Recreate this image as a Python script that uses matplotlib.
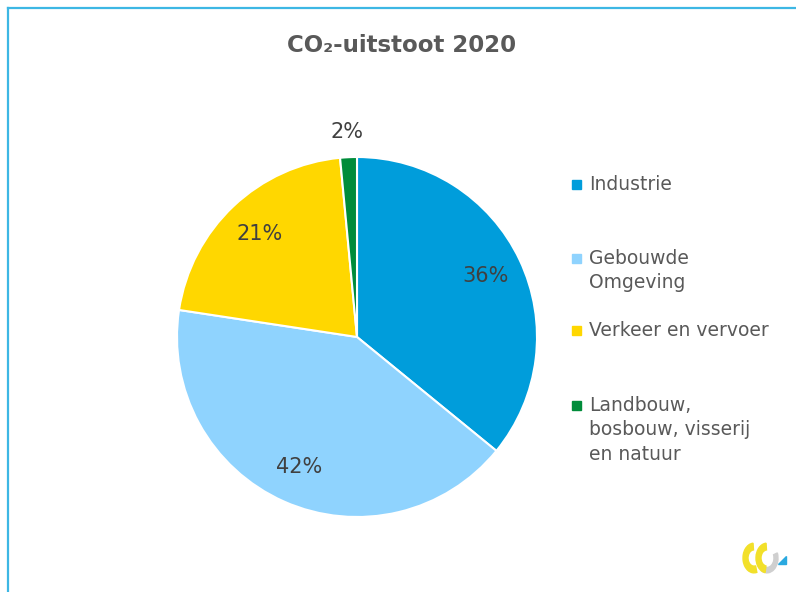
import matplotlib
matplotlib.use("Agg")
import matplotlib.pyplot as plt
from matplotlib.patches import Rectangle, Wedge, Polygon
from matplotlib.lines import Line2D
import numpy as np

plt.rcParams["font.family"] = ["DejaVu Sans"]

# data
categories = ["Industrie", "Gebouwde\nOmgeving", "Verkeer en vervoer",
              "Landbouw,\nbosbouw, visserij\nen natuur"]
shares = [35.9, 41.5, 21.1, 1.5]
colors = ["#009DDB", "#8FD3FE", "#FFD700", "#008C3A"]
title = "CO₂-uitstoot 2020"

W, H = 796, 592
fig = plt.figure(figsize=(W / 100, H / 100), dpi=100)
fig.patch.set_facecolor("white")

# blauwe kaderlijn links en boven
border = "#3DB7E4"
fig.add_artist(Line2D([8 / W, 8 / W], [0, 1 - 8 / H], color=border, lw=1.6))
fig.add_artist(Line2D([8 / W, 1], [1 - 8 / H, 1 - 8 / H], color=border, lw=1.6))

fig.text(402 / W, 1 - 46 / H, title, ha="center", va="center",
         fontsize=16.5, fontweight="bold", color="#595959")

# taartdiagram
cx, cy, r = 357, 337, 180
ax = fig.add_axes([(cx - r) / W, 1 - (cy + r) / H, 2 * r / W, 2 * r / H])
wedges, texts, autotexts = ax.pie(
    shares, colors=colors, startangle=90, counterclock=False,
    autopct="%.0f%%", pctdistance=0.79,
    wedgeprops=dict(edgecolor="white", linewidth=1.5),
    textprops=dict(fontsize=15, color="#404040"))
ax.set_xlim(-1, 1)
ax.set_ylim(-1, 1)
ax.set_aspect("equal")

# kleinste segment: label buiten de taart
w = wedges[-1]
ang = np.deg2rad((w.theta1 + w.theta2) / 2)
autotexts[-1].set_position((1.14 * np.cos(ang), 1.14 * np.sin(ang)))
for t in autotexts:
    t.set_clip_on(False)

# legenda
legend_y = [184, 258, 330, 405]
for cat, col, y in zip(categories, colors, legend_y):
    fig.add_artist(Rectangle((572 / W, 1 - (y + 5) / H), 9 / W, 9 / H,
                             transform=fig.transFigure, color=col))
    fig.text(589 / W, 1 - (y - 9) / H, cat, ha="left", va="top",
             fontsize=13.5, color="#595959", linespacing=1.36)

# klein logo rechtsonder (verticaal uitgerekt)
s = 1.35
lax = fig.add_axes([738 / W, 1 - 581 / H, 50 / W, 46 / H])
lax.set_xlim(0, 50)
lax.set_ylim(0, 46 / s)
lax.axis("off")
lax.add_patch(Wedge((16, 23 / s), 11, 95, 285, width=5, color="#F2E02A"))
lax.add_patch(Wedge((29, 23 / s), 11, 240, 20, width=4, color="#CFCFCF"))
lax.add_patch(Wedge((29, 23 / s), 11, 95, 260, width=5, color="#F2E02A"))
lax.add_patch(Polygon([[40, 17 / s], [47.5, 17 / s], [47.5, 25 / s]],
                      color="#2AA9E0"))

fig.savefig("out.png", dpi=100)
